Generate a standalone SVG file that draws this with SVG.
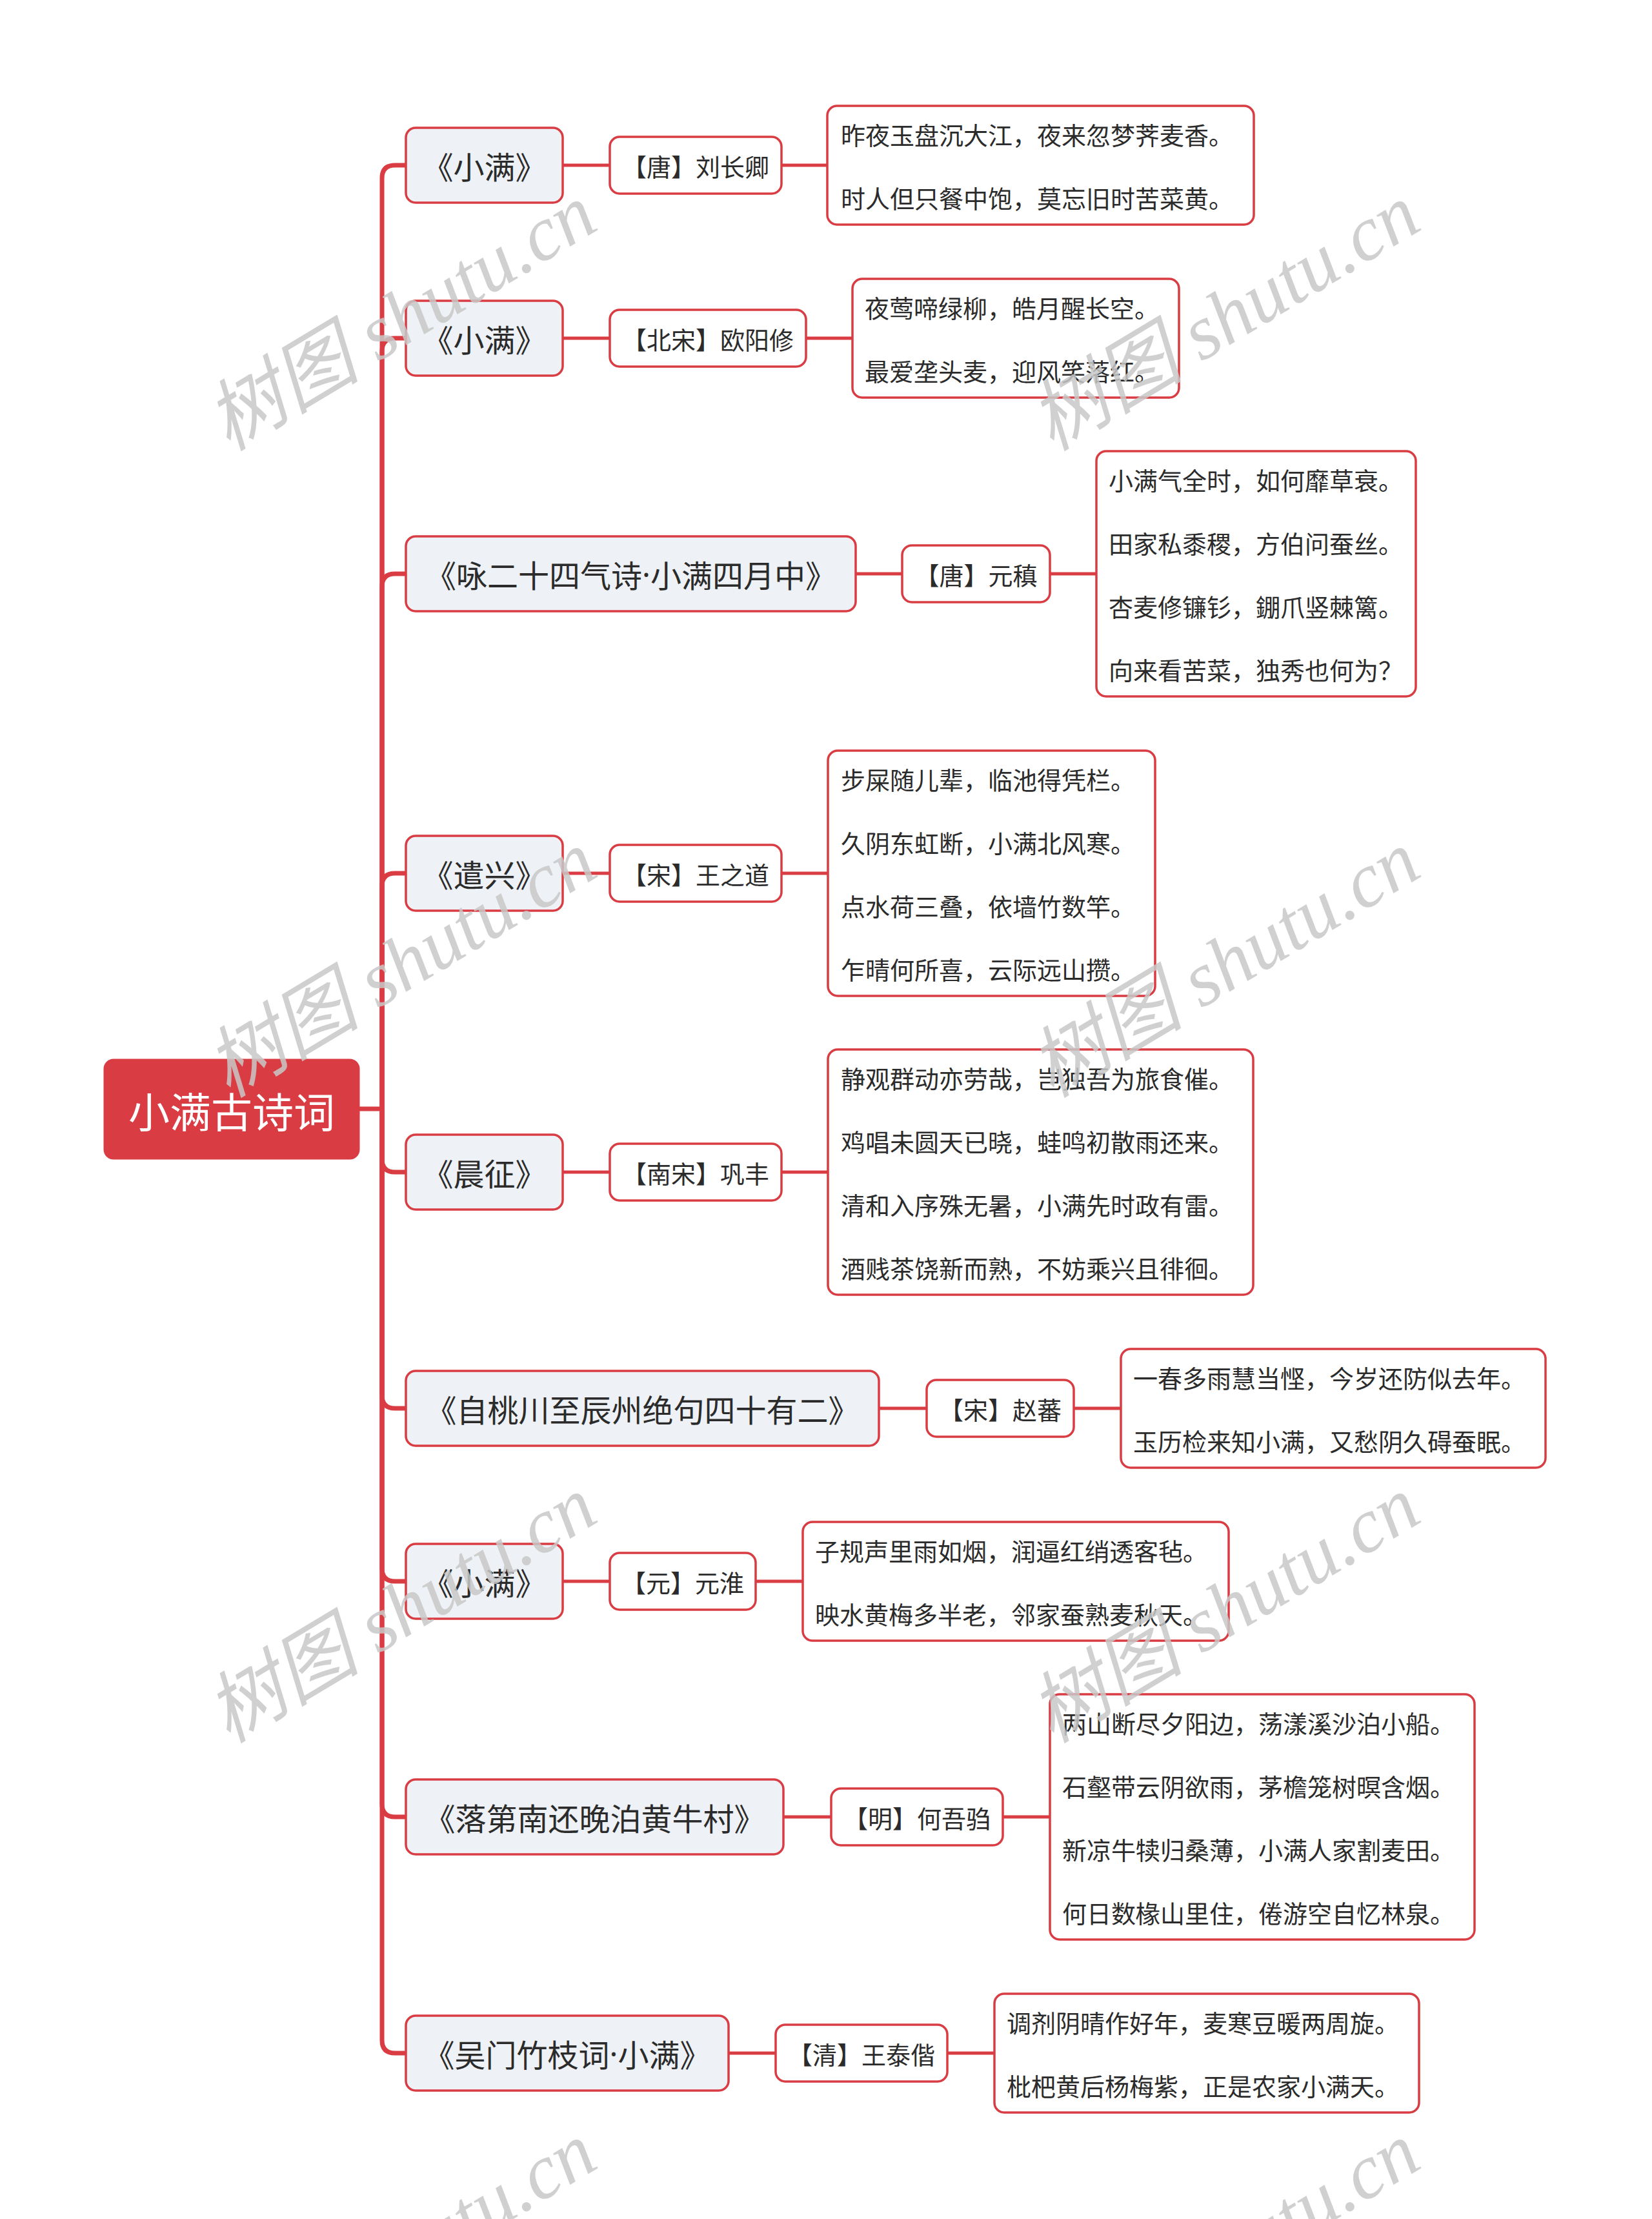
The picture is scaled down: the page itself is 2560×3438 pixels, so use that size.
<svg xmlns="http://www.w3.org/2000/svg" width="2560" height="3438" viewBox="0 0 2560 3438">
<style>
text{font-family:"Noto Sans CJK SC","Noto Sans",sans-serif;fill:#2b2b2b}
.dot{font-family:"Noto Sans","Liberation Sans",sans-serif}
.root rect{fill:#DA3C43;stroke:#DA3C43;stroke-width:3}
.root text{fill:#ffffff;font-size:64px}
.l1 rect{fill:#EEF1F5;stroke:#DA3C43;stroke-width:3.5}
.l1 text{font-size:48px}
.l2 rect,.l3 rect{fill:#ffffff;stroke:#DA3C43;stroke-width:3.5}
.l2 text,.l3 text{font-size:38px}
.spine{fill:none;stroke:#DA3C43;stroke-width:7}
.link{fill:none;stroke:#DA3C43;stroke-width:5}
.wm{font-family:"Liberation Serif","Noto Sans CJK SC",serif;font-style:italic;font-size:120px;fill:#c8c8c8;fill-opacity:0.85}
</style>
<rect width="2560" height="3438" fill="#ffffff"/>
<g id="connectors">
<path class="spine" d="M556 1718 H592"/>
<path class="spine" d="M592 1718 V276 Q592 256 612 256 H629"/>
<path class="spine" d="M592 1718 V544 Q592 524 612 524 H629"/>
<path class="spine" d="M592 1718 V909 Q592 889 612 889 H629"/>
<path class="spine" d="M592 1718 V1373 Q592 1353 612 1353 H629"/>
<path class="spine" d="M592 1718 V1796 Q592 1816 612 1816 H629"/>
<path class="spine" d="M592 1718 V2162 Q592 2182 612 2182 H629"/>
<path class="spine" d="M592 1718 V2430 Q592 2450 612 2450 H629"/>
<path class="spine" d="M592 1718 V2795 Q592 2815 612 2815 H629"/>
<path class="spine" d="M592 1718 V3161 Q592 3181 612 3181 H629"/>
<path class="link" d="M872 256 H945 M1211 256 H1282"/>
<path class="link" d="M872 524 H945 M1249 524 H1321"/>
<path class="link" d="M1326 889 H1398 M1627 889 H1699"/>
<path class="link" d="M872 1353 H945 M1211 1353 H1283"/>
<path class="link" d="M872 1816 H945 M1211 1816 H1283"/>
<path class="link" d="M1362 2182 H1436 M1664 2182 H1737"/>
<path class="link" d="M872 2450 H945 M1171 2450 H1244"/>
<path class="link" d="M1214 2815 H1288 M1554 2815 H1627"/>
<path class="link" d="M1129 3181 H1202 M1468 3181 H1541"/>
</g>
<g id="root" class="root">
<rect x="162" y="1642" width="394" height="153" rx="14"/>
<text x="359" y="1719" text-anchor="middle" dominant-baseline="central">小满古诗词</text>
</g>
<g id="r1-title" class="l1"><rect x="629" y="198" width="243" height="116" rx="15"/><text x="750.5" y="256" text-anchor="middle" dominant-baseline="central">《小满》</text></g>
<g id="r1-author" class="l2"><rect x="945" y="212" width="266" height="88" rx="15"/><text x="1078" y="256" text-anchor="middle" dominant-baseline="central">【唐】刘长卿</text></g>
<g id="r1-poem" class="l3"><rect x="1282" y="164" width="661" height="184" rx="15"/>
<text x="1303" y="207" dominant-baseline="central">昨夜玉盘沉大江，夜来忽梦荠麦香。</text>
<text x="1303" y="305" dominant-baseline="central">时人但只餐中饱，莫忘旧时苦菜黄。</text></g>

<g id="r2-title" class="l1"><rect x="629" y="466" width="243" height="116" rx="15"/><text x="750.5" y="524" text-anchor="middle" dominant-baseline="central">《小满》</text></g>
<g id="r2-author" class="l2"><rect x="945" y="480" width="304" height="88" rx="15"/><text x="1097" y="524" text-anchor="middle" dominant-baseline="central">【北宋】欧阳修</text></g>
<g id="r2-poem" class="l3"><rect x="1321" y="432" width="506" height="184" rx="15"/>
<text x="1340" y="475" dominant-baseline="central">夜莺啼绿柳，皓月醒长空。</text>
<text x="1340" y="573" dominant-baseline="central">最爱垄头麦，迎风笑落红。</text></g>

<g id="r3-title" class="l1"><rect x="629" y="831" width="697" height="116" rx="15"/><text x="977.5" y="889" text-anchor="middle" dominant-baseline="central">《咏二十四气诗<tspan class="dot">·</tspan>小满四月中》</text></g>
<g id="r3-author" class="l2"><rect x="1398" y="845" width="229" height="88" rx="15"/><text x="1512.5" y="889" text-anchor="middle" dominant-baseline="central">【唐】元稹</text></g>
<g id="r3-poem" class="l3"><rect x="1699" y="699" width="495" height="380" rx="15"/>
<text x="1718" y="742" dominant-baseline="central">小满气全时，如何靡草衰。</text>
<text x="1718" y="840" dominant-baseline="central">田家私黍稷，方伯问蚕丝。</text>
<text x="1718" y="938" dominant-baseline="central">杏麦修镰钐，錋爪竖棘篱。</text>
<text x="1718" y="1036" dominant-baseline="central">向来看苦菜，独秀也何为？</text></g>

<g id="r4-title" class="l1"><rect x="629" y="1295" width="243" height="116" rx="15"/><text x="750.5" y="1353" text-anchor="middle" dominant-baseline="central">《遣兴》</text></g>
<g id="r4-author" class="l2"><rect x="945" y="1309" width="266" height="88" rx="15"/><text x="1078" y="1353" text-anchor="middle" dominant-baseline="central">【宋】王之道</text></g>
<g id="r4-poem" class="l3"><rect x="1283" y="1163" width="507" height="380" rx="15"/>
<text x="1303" y="1206" dominant-baseline="central">步屎随儿辈，临池得凭栏。</text>
<text x="1303" y="1304" dominant-baseline="central">久阴东虹断，小满北风寒。</text>
<text x="1303" y="1402" dominant-baseline="central">点水荷三叠，依墙竹数竿。</text>
<text x="1303" y="1500" dominant-baseline="central">乍晴何所喜，云际远山攒。</text></g>

<g id="r5-title" class="l1"><rect x="629" y="1758" width="243" height="116" rx="15"/><text x="750.5" y="1816" text-anchor="middle" dominant-baseline="central">《晨征》</text></g>
<g id="r5-author" class="l2"><rect x="945" y="1772" width="266" height="88" rx="15"/><text x="1078" y="1816" text-anchor="middle" dominant-baseline="central">【南宋】巩丰</text></g>
<g id="r5-poem" class="l3"><rect x="1283" y="1626" width="659" height="380" rx="15"/>
<text x="1303" y="1669" dominant-baseline="central">静观群动亦劳哉，岂独吾为旅食催。</text>
<text x="1303" y="1767" dominant-baseline="central">鸡唱未圆天已晓，蛙鸣初散雨还来。</text>
<text x="1303" y="1865" dominant-baseline="central">清和入序殊无暑，小满先时政有雷。</text>
<text x="1303" y="1963" dominant-baseline="central">酒贱茶饶新而熟，不妨乘兴且徘徊。</text></g>

<g id="r6-title" class="l1"><rect x="629" y="2124" width="733" height="116" rx="15"/><text x="995.5" y="2182" text-anchor="middle" dominant-baseline="central">《自桃川至辰州绝句四十有二》</text></g>
<g id="r6-author" class="l2"><rect x="1436" y="2138" width="228" height="88" rx="15"/><text x="1550" y="2182" text-anchor="middle" dominant-baseline="central">【宋】赵蕃</text></g>
<g id="r6-poem" class="l3"><rect x="1737" y="2090" width="658" height="184" rx="15"/>
<text x="1756" y="2133" dominant-baseline="central">一春多雨慧当悭，今岁还防似去年。</text>
<text x="1756" y="2231" dominant-baseline="central">玉历检来知小满，又愁阴久碍蚕眠。</text></g>

<g id="r7-title" class="l1"><rect x="629" y="2392" width="243" height="116" rx="15"/><text x="750.5" y="2450" text-anchor="middle" dominant-baseline="central">《小满》</text></g>
<g id="r7-author" class="l2"><rect x="945" y="2406" width="226" height="88" rx="15"/><text x="1058" y="2450" text-anchor="middle" dominant-baseline="central">【元】元淮</text></g>
<g id="r7-poem" class="l3"><rect x="1244" y="2358" width="660" height="184" rx="15"/>
<text x="1263" y="2401" dominant-baseline="central">子规声里雨如烟，润逼红绡透客毡。</text>
<text x="1263" y="2499" dominant-baseline="central">映水黄梅多半老，邻家蚕熟麦秋天。</text></g>

<g id="r8-title" class="l1"><rect x="629" y="2757" width="585" height="116" rx="15"/><text x="921.5" y="2815" text-anchor="middle" dominant-baseline="central">《落第南还晚泊黄牛村》</text></g>
<g id="r8-author" class="l2"><rect x="1288" y="2771" width="266" height="88" rx="15"/><text x="1421" y="2815" text-anchor="middle" dominant-baseline="central">【明】何吾驺</text></g>
<g id="r8-poem" class="l3"><rect x="1627" y="2625" width="658" height="380" rx="15"/>
<text x="1646" y="2668" dominant-baseline="central">两山断尽夕阳边，荡漾溪沙泊小船。</text>
<text x="1646" y="2766" dominant-baseline="central">石壑带云阴欲雨，茅檐笼树暝含烟。</text>
<text x="1646" y="2864" dominant-baseline="central">新凉牛犊归桑薄，小满人家割麦田。</text>
<text x="1646" y="2962" dominant-baseline="central">何日数椽山里住，倦游空自忆林泉。</text></g>

<g id="r9-title" class="l1"><rect x="629" y="3123" width="500" height="116" rx="15"/><text x="879" y="3181" text-anchor="middle" dominant-baseline="central">《吴门竹枝词<tspan class="dot">·</tspan>小满》</text></g>
<g id="r9-author" class="l2"><rect x="1202" y="3137" width="266" height="88" rx="15"/><text x="1335" y="3181" text-anchor="middle" dominant-baseline="central">【清】王泰偕</text></g>
<g id="r9-poem" class="l3"><rect x="1541" y="3089" width="658" height="184" rx="15"/>
<text x="1560" y="3132" dominant-baseline="central">调剂阴晴作好年，麦寒豆暖两周旋。</text>
<text x="1560" y="3230" dominant-baseline="central">枇杷黄后杨梅紫，正是农家小满天。</text></g>

<g id="watermarks">
<text class="wm" x="354" y="700" transform="rotate(-31 354 700)">树图 shutu.cn</text>
<text class="wm" x="1630" y="700" transform="rotate(-31 1630 700)">树图 shutu.cn</text>
<text class="wm" x="354" y="1702" transform="rotate(-31 354 1702)">树图 shutu.cn</text>
<text class="wm" x="1630" y="1702" transform="rotate(-31 1630 1702)">树图 shutu.cn</text>
<text class="wm" x="354" y="2702" transform="rotate(-31 354 2702)">树图 shutu.cn</text>
<text class="wm" x="1630" y="2702" transform="rotate(-31 1630 2702)">树图 shutu.cn</text>
<text class="wm" x="354" y="3703" transform="rotate(-31 354 3703)">树图 shutu.cn</text>
<text class="wm" x="1630" y="3703" transform="rotate(-31 1630 3703)">树图 shutu.cn</text>
</g>
</svg>
